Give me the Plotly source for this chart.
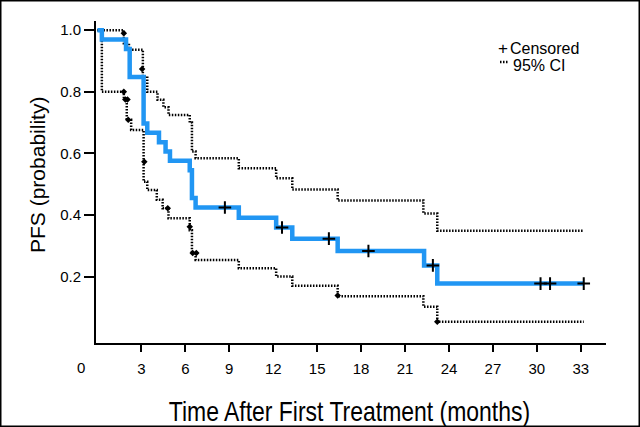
import plotly.graph_objects as go

# Kaplan-Meier PFS estimate (step times in months, probability after step)
km_time = [0, 0.3, 1.95, 2.2, 3.15, 3.4, 4.2, 4.65, 4.95, 6.3, 6.45, 6.7, 9.65, 12.2, 13.3, 16.4, 22.3, 23.2, 33.2]
km_surv = [1.0, 0.970, 0.939, 0.848, 0.697, 0.667, 0.636, 0.606, 0.576, 0.545, 0.455, 0.424, 0.391, 0.359, 0.323, 0.283, 0.236, 0.177, 0.177]

# 95% confidence bounds
upper_time = [0, 1.8, 2.15, 3.1, 3.4, 4.1, 4.5, 4.85, 6.3, 6.45, 6.7, 9.65, 12.2, 13.3, 16.4, 22.25, 23.2, 33.2]
upper_ci = [1.0, 0.958, 0.937, 0.85, 0.80, 0.774, 0.75, 0.725, 0.70, 0.606, 0.584, 0.552, 0.519, 0.483, 0.447, 0.405, 0.349, 0.349]
lower_time = [0, 0.3, 1.8, 2.0, 2.3, 3.15, 3.4, 4.05, 4.45, 4.85, 6.3, 6.45, 6.7, 9.65, 12.2, 13.3, 16.4, 22.25, 23.2, 33.2]
lower_ci = [1.0, 0.80, 0.778, 0.709, 0.676, 0.508, 0.481, 0.449, 0.422, 0.389, 0.35, 0.276, 0.254, 0.227, 0.20, 0.17, 0.136, 0.102, 0.053, 0.053]

# censored observations
censor_time = [8.7, 12.6, 15.8, 18.5, 22.9, 30.25, 30.9, 33.2]
censor_surv = [0.424, 0.359, 0.323, 0.283, 0.236, 0.177, 0.177, 0.177]

# small marks on the confidence bounds
ci_mark_time = [1.8, 3.05, 1.8, 1.9, 2.05, 2.1, 3.2, 4.8, 6.3, 6.5, 6.75, 16.4, 23.2]
ci_mark_value = [0.99, 0.874, 0.80, 0.775, 0.775, 0.709, 0.573, 0.422, 0.362, 0.276, 0.276, 0.138, 0.053]

x_ticks = [3, 6, 9, 12, 15, 18, 21, 24, 27, 30, 33]
y_ticks = [0.2, 0.4, 0.6, 0.8, 1.0]
y_tick_labels = ["0.2", "0.4", "0.6", "0.8", "1.0"]

BLUE = "#2196F3"
FONT = "Liberation Sans, Arial, Helvetica, sans-serif"
DOT = "1.5px,1.5px"

fig = go.Figure()
fig.add_trace(go.Scatter(x=upper_time, y=upper_ci, mode="lines", name="95% CI",
                         line=dict(shape="hv", color="black", width=2.5, dash=DOT)))
fig.add_trace(go.Scatter(x=lower_time, y=lower_ci, mode="lines", name="95% CI lower",
                         line=dict(shape="hv", color="black", width=2.5, dash=DOT)))
fig.add_trace(go.Scatter(x=ci_mark_time, y=ci_mark_value, mode="markers", name="CI marks",
                         marker=dict(symbol="diamond", size=5, color="black")))
fig.add_trace(go.Scatter(x=km_time, y=km_surv, mode="lines", name="PFS",
                         line=dict(shape="hv", color=BLUE, width=4.5)))
fig.add_trace(go.Scatter(x=censor_time, y=censor_surv, mode="markers", name="Censored",
                         marker=dict(symbol="cross-thin", size=9, color="black",
                                     line=dict(color="black", width=2))))

L, R, T, B = 96, 34, 21, 84
W, H = 640, 427
pw, ph = W - L - R, H - T - B


def px(x):
    return (x - L) / pw


def py(y):
    return (H - B - y) / ph


annotations = [
    dict(x=px(81), y=py(367), text="0", showarrow=False, xref="paper", yref="paper",
         font=dict(family=FONT, size=15, color="black"), xanchor="center", yanchor="middle"),
    dict(x=px(349), y=py(411), text="Time After First Treatment (months)", showarrow=False,
         xref="paper", yref="paper", font=dict(family=FONT, size=28, color="black"),
         xanchor="center", yanchor="middle"),
    dict(x=px(37), y=py(175), text="PFS (probability)", showarrow=False, textangle=-90,
         xref="paper", yref="paper", font=dict(family=FONT, size=21, color="black"),
         xanchor="center", yanchor="middle"),
    dict(x=px(503), y=py(48), text="+", showarrow=False, xref="paper", yref="paper",
         font=dict(family=FONT, size=17, color="black"), xanchor="center", yanchor="middle"),
    dict(x=px(508), y=py(48), text="Censored", showarrow=False, xref="paper", yref="paper",
         font=dict(family=FONT, size=16, color="black"), xanchor="left", yanchor="middle"),
    dict(x=px(511), y=py(65), text="95% CI", showarrow=False, xref="paper", yref="paper",
         font=dict(family=FONT, size=16, color="black"), xanchor="left", yanchor="middle"),
]

shapes = [
    dict(type="line", xref="paper", yref="paper", x0=px(500), x1=px(509), y0=py(62), y1=py(62),
         line=dict(color="black", width=2.5, dash=DOT)),
    dict(type="rect", xref="paper", yref="paper", x0=px(0.75), x1=px(639.25), y0=py(0.75), y1=py(426.25),
         line=dict(color="black", width=1.5)),
]

fig.update_layout(
    width=W, height=H,
    margin=dict(l=L, r=R, t=T, b=B),
    plot_bgcolor="white", paper_bgcolor="white",
    showlegend=False,
    annotations=annotations,
    shapes=shapes,
    xaxis=dict(range=[-0.1, 34.72], tickvals=x_ticks, ticks="outside", ticklen=7, tickwidth=1.5,
               tickcolor="black", showline=True, linecolor="black", linewidth=2, showgrid=False,
               zeroline=False, tickfont=dict(family=FONT, size=15, color="black"),
               ticklabelstandoff=4),
    yaxis=dict(range=[-0.016, 1.03], tickvals=y_ticks, ticktext=y_tick_labels, ticks="outside",
               ticklen=10, tickwidth=1.5, tickcolor="black", showline=True, linecolor="black",
               linewidth=2, showgrid=False, zeroline=False,
               tickfont=dict(family=FONT, size=15, color="black")),
)

# remove the page's default body margin and condense the x-axis title like the reference
post = """
document.body.style.margin = '0';
document.body.style.overflow = 'hidden';
var texts = document.querySelectorAll('.annotation-text');
texts.forEach(function(t){
  if (t.textContent.indexOf('Time After') === 0) {
    var b = t.getBBox();
    var cx = b.x + b.width / 2;
    var ns = 'http://www.w3.org/2000/svg';
    var g = document.createElementNS(ns, 'g');
    t.parentNode.insertBefore(g, t);
    g.appendChild(t);
    g.setAttribute('transform', 'translate(' + cx + ',0) scale(0.82,1) translate(' + (-cx) + ',0)');
  }
});
"""

fig.write_html("out.html", post_script=post, config={"displayModeBar": False})
